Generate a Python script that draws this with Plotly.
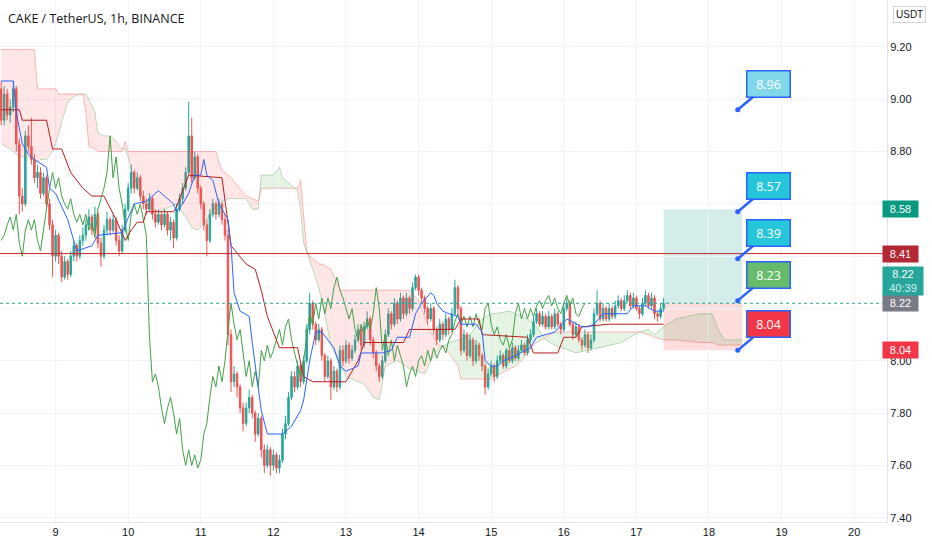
import plotly.graph_objects as go

# CAKE / USDT hourly candles, index 0 = day 8, 06:00
start_day = 8
start_hour = 6

closes = [
    8.92, 9.02, 8.94, 8.97, 9.04, 8.83, 8.63, 8.60, 8.86, 8.82,
    8.77, 8.70, 8.72, 8.64, 8.70, 8.60, 8.52, 8.40, 8.48, 8.40,
    8.32, 8.38, 8.33, 8.40, 8.44, 8.40, 8.46, 8.48, 8.52, 8.55,
    8.50, 8.56, 8.45, 8.40, 8.50, 8.54, 8.50, 8.54, 8.46, 8.42,
    8.50, 8.58, 8.66, 8.72, 8.66, 8.70, 8.63, 8.60, 8.58, 8.62,
    8.56, 8.53, 8.56, 8.52, 8.56, 8.50, 8.53, 8.47, 8.58, 8.62,
    8.66, 8.72, 8.86, 8.70, 8.78, 8.66, 8.60, 8.52, 8.46, 8.56,
    8.60, 8.56, 8.60, 8.54, 8.48, 8.10, 7.92, 7.95, 7.90, 7.82,
    7.76, 7.82, 7.86, 7.80, 7.72, 7.78, 7.66, 7.60, 7.66, 7.60,
    7.64, 7.59, 7.62, 7.72, 7.76, 7.86, 7.94, 7.90, 7.98, 7.92,
    8.00, 8.12, 8.22, 8.14, 8.08, 8.12, 8.02, 7.94, 8.00, 7.90,
    7.96, 7.90, 8.04, 8.00, 8.06, 8.01, 8.04, 8.08, 8.12, 8.06,
    8.13, 8.16, 8.08, 8.03, 7.98, 7.94, 8.00, 8.10, 8.18, 8.14,
    8.22, 8.16, 8.24, 8.18, 8.24, 8.20, 8.28, 8.32, 8.27, 8.24,
    8.20, 8.16, 8.20, 8.12, 8.08, 8.14, 8.10, 8.16, 8.12, 8.18,
    8.28, 8.20, 8.04, 8.10, 8.02, 8.08, 8.00, 8.06, 8.02, 7.98,
    7.90, 7.95, 7.98, 7.94, 8.00, 8.02, 7.98, 8.04, 8.00, 8.05,
    8.01, 8.04, 8.06, 8.03, 8.08, 8.10, 8.15, 8.18, 8.14, 8.17,
    8.13, 8.17, 8.13, 8.18, 8.14, 8.12, 8.20, 8.22, 8.14, 8.10,
    8.13, 8.08, 8.06, 8.10, 8.05, 8.08, 8.18, 8.22, 8.16, 8.20,
    8.16, 8.20, 8.17, 8.21, 8.23, 8.20, 8.23, 8.25, 8.21, 8.24,
    8.20, 8.18, 8.22, 8.25, 8.21, 8.24, 8.18, 8.17, 8.20, 8.22,
]
first_open = 9.04

highs = [
    9.07, 9.05, 9.04, 9.00, 9.07, 9.05, 8.85, 8.66, 8.88, 8.90,
    8.93, 8.79, 8.75, 8.74, 8.72, 8.71, 8.62, 8.54, 8.50, 8.49,
    8.42, 8.40, 8.39, 8.42, 8.46, 8.45, 8.48, 8.51, 8.54, 8.58,
    8.56, 8.59, 8.57, 8.47, 8.52, 8.57, 8.55, 8.56, 8.55, 8.48,
    8.52, 8.60, 8.68, 8.75, 8.73, 8.72, 8.71, 8.65, 8.62, 8.64,
    8.63, 8.58, 8.58, 8.57, 8.58, 8.57, 8.55, 8.54, 8.60, 8.64,
    8.68, 8.74, 8.99, 8.93, 8.80, 8.79, 8.67, 8.61, 8.54, 8.58,
    8.62, 8.61, 8.62, 8.61, 8.56, 8.50, 8.12, 7.98, 7.96, 7.91,
    7.84, 7.84, 7.89, 7.87, 7.81, 7.80, 7.79, 7.68, 7.68, 7.67,
    7.66, 7.65, 7.64, 7.74, 7.79, 7.88, 7.96, 7.96, 8.00, 7.99,
    8.02, 8.14, 8.26, 8.23, 8.15, 8.14, 8.13, 8.03, 8.02, 8.01,
    7.98, 7.97, 8.06, 8.06, 8.08, 8.07, 8.06, 8.10, 8.14, 8.13,
    8.15, 8.19, 8.17, 8.09, 8.04, 7.99, 8.02, 8.12, 8.20, 8.19,
    8.24, 8.23, 8.26, 8.25, 8.26, 8.25, 8.30, 8.33, 8.33, 8.28,
    8.25, 8.21, 8.22, 8.21, 8.13, 8.16, 8.15, 8.18, 8.17, 8.20,
    8.31, 8.29, 8.21, 8.12, 8.11, 8.10, 8.09, 8.08, 8.07, 8.03,
    7.99, 7.97, 8.00, 7.99, 8.02, 8.04, 8.03, 8.05, 8.05, 8.07,
    8.06, 8.06, 8.08, 8.07, 8.10, 8.12, 8.17, 8.20, 8.19, 8.19,
    8.18, 8.19, 8.18, 8.20, 8.19, 8.15, 8.22, 8.24, 8.23, 8.15,
    8.15, 8.14, 8.09, 8.12, 8.11, 8.10, 8.20, 8.27, 8.23, 8.22,
    8.21, 8.22, 8.21, 8.23, 8.25, 8.24, 8.25, 8.27, 8.26, 8.26,
    8.25, 8.21, 8.24, 8.27, 8.26, 8.26, 8.25, 8.19, 8.22, 8.24,
]

lows = [
    8.90, 8.90, 8.92, 8.91, 8.95, 8.80, 8.56, 8.57, 8.59, 8.80,
    8.75, 8.68, 8.66, 8.62, 8.63, 8.58, 8.50, 8.32, 8.38, 8.37,
    8.30, 8.31, 8.31, 8.32, 8.38, 8.38, 8.39, 8.44, 8.46, 8.50,
    8.48, 8.49, 8.43, 8.36, 8.39, 8.48, 8.48, 8.49, 8.44, 8.40,
    8.41, 8.49, 8.57, 8.64, 8.64, 8.65, 8.61, 8.58, 8.56, 8.57,
    8.54, 8.51, 8.52, 8.50, 8.51, 8.48, 8.46, 8.43, 8.46, 8.57,
    8.60, 8.65, 8.71, 8.68, 8.69, 8.64, 8.58, 8.50, 8.40, 8.45,
    8.55, 8.54, 8.55, 8.52, 8.46, 8.06, 7.88, 7.90, 7.86, 7.80,
    7.73, 7.75, 7.80, 7.78, 7.69, 7.71, 7.63, 7.57, 7.59, 7.56,
    7.58, 7.57, 7.57, 7.61, 7.70, 7.75, 7.85, 7.88, 7.89, 7.90,
    7.91, 7.99, 8.10, 8.12, 8.06, 8.07, 8.00, 7.92, 7.93, 7.85,
    7.89, 7.88, 7.89, 7.98, 7.99, 7.99, 8.00, 8.03, 8.07, 8.04,
    8.05, 8.12, 8.06, 8.01, 7.96, 7.92, 7.93, 7.99, 8.09, 8.12,
    8.13, 8.14, 8.15, 8.16, 8.17, 8.18, 8.19, 8.27, 8.25, 8.22,
    8.18, 8.14, 8.15, 8.10, 8.06, 8.07, 8.08, 8.09, 8.10, 8.11,
    8.17, 8.18, 8.02, 8.03, 8.00, 8.01, 7.98, 7.99, 8.00, 7.96,
    7.87, 7.89, 7.94, 7.92, 7.93, 7.99, 7.97, 7.97, 7.99, 7.99,
    8.00, 8.00, 8.03, 8.02, 8.02, 8.07, 8.09, 8.14, 8.13, 8.13,
    8.12, 8.12, 8.12, 8.12, 8.13, 8.10, 8.11, 8.19, 8.13, 8.08,
    8.09, 8.07, 8.04, 8.05, 8.03, 8.04, 8.07, 8.17, 8.15, 8.15,
    8.15, 8.15, 8.16, 8.16, 8.20, 8.19, 8.19, 8.22, 8.20, 8.20,
    8.19, 8.16, 8.17, 8.21, 8.20, 8.20, 8.16, 8.15, 8.16, 8.19,
]

# Ichimoku lines: (hour index, price)
conv_idx = [0, 4, 5, 7, 9, 11, 15, 16, 18, 20, 22, 24, 25, 30, 32, 40, 41, 44, 48, 52,
            54, 57, 58, 60, 62, 64, 66, 67, 68, 70, 72, 75, 76, 77, 79, 82, 83, 86, 88, 93,
            96, 99, 100, 102, 104, 106, 110, 112, 114, 118, 119, 126, 129, 131, 135, 137, 139, 142, 143, 144,
            146, 148, 151, 152, 157, 159, 160, 162, 164, 166, 170, 175, 177, 183, 187, 192, 194, 196, 199, 203,
            207, 209, 213, 216, 219]
conv_val = [9.07, 9.07, 8.95, 8.83, 8.79, 8.77, 8.74, 8.66, 8.64, 8.59, 8.54, 8.46, 8.42, 8.44, 8.48, 8.49, 8.52, 8.60, 8.61, 8.65,
            8.63, 8.60, 8.57, 8.60, 8.64, 8.71, 8.71, 8.77, 8.71, 8.69, 8.60, 8.54, 8.44, 8.26, 8.19, 8.17, 8.07, 7.81, 7.72, 7.72,
            7.75, 7.81, 7.85, 8.00, 8.11, 8.11, 8.05, 7.98, 7.96, 7.98, 8.03, 8.03, 8.04, 8.09, 8.09, 8.18, 8.22, 8.26, 8.25, 8.22,
            8.19, 8.18, 8.17, 8.14, 8.14, 8.11, 8.00, 7.98, 7.98, 8.00, 8.02, 8.05, 8.09, 8.11, 8.16, 8.13, 8.13, 8.14, 8.18, 8.18,
            8.18, 8.21, 8.21, 8.19, 8.19]

base_idx = [0, 6, 7, 15, 17, 20, 23, 27, 30, 34, 38, 41, 43, 45, 47, 48, 57, 58, 62, 73,
            76, 81, 84, 86, 88, 92, 98, 100, 103, 114, 118, 120, 133, 135, 150, 152, 158, 159, 174, 176,
            184, 186, 190, 192, 201, 219]
base_val = [8.96, 8.96, 8.92, 8.92, 8.81, 8.81, 8.72, 8.66, 8.63, 8.63, 8.54, 8.46, 8.50, 8.53, 8.53, 8.57, 8.57, 8.59, 8.71, 8.70,
            8.44, 8.37, 8.35, 8.27, 8.17, 8.05, 8.05, 7.94, 7.92, 7.92, 8.00, 8.07, 8.07, 8.12, 8.12, 8.16, 8.16, 8.10, 8.09, 8.03,
            8.03, 8.09, 8.09, 8.13, 8.14, 8.14]

lag_shift = 26

cloud_idx = [0, 3, 6, 10, 11, 12, 13, 15, 17, 18, 19, 20, 21, 22, 24, 26, 27, 28, 29, 31,
             32, 34, 36, 38, 39, 40, 41, 42, 43, 45, 47, 49, 52, 54, 56, 58, 61, 63, 65, 68,
             71, 72, 73, 75, 76, 81, 83, 85, 86, 87, 90, 92, 93, 96, 98, 99, 100, 101, 102, 103,
             105, 106, 109, 112, 114, 120, 123, 125, 127, 131, 135, 138, 140, 142, 144, 145, 147, 148, 151, 152,
             155, 159, 162, 163, 168, 170, 172, 174, 176, 177, 180, 183, 190, 198, 205, 211, 214, 216, 219, 223,
             231, 235, 237, 239, 245]
span_a = [8.83, 8.81, 8.78, 8.78, 8.76, 8.76, 8.77, 8.77, 8.80, 8.83, 8.87, 8.91, 8.96, 8.99, 9.01, 9.02, 9.02, 9.02, 9.00, 8.95,
          8.87, 8.86, 8.86, 8.84, 8.82, 8.81, 8.81, 8.78, 8.73, 8.67, 8.62, 8.58, 8.57, 8.58, 8.59, 8.60, 8.55, 8.51, 8.50, 8.54,
          8.59, 8.60, 8.61, 8.62, 8.62, 8.62, 8.58, 8.58, 8.71, 8.71, 8.71, 8.74, 8.70, 8.67, 8.65, 8.58, 8.45, 8.42, 8.38, 8.35,
          8.28, 8.23, 8.06, 7.99, 7.94, 7.91, 7.86, 7.85, 7.98, 8.00, 7.97, 7.96, 7.95, 8.00, 8.04, 8.05, 8.06, 8.07, 8.08, 8.08,
          8.10, 8.16, 8.18, 8.18, 8.19, 8.18, 8.17, 8.16, 8.14, 8.13, 8.08, 8.06, 8.03, 8.05, 8.07, 8.11, 8.12, 8.10, 8.13, 8.16,
          8.18, 8.18, 8.12, 8.08, 8.08]
span_b = [9.19, 9.19, 9.19, 9.19, 9.19, 9.04, 9.04, 9.04, 9.04, 9.04, 9.02, 9.02, 9.02, 9.02, 9.02, 9.02, 9.02, 8.95, 8.82, 8.81,
          8.80, 8.80, 8.80, 8.80, 8.80, 8.80, 8.84, 8.80, 8.80, 8.80, 8.80, 8.80, 8.80, 8.80, 8.80, 8.80, 8.80, 8.80, 8.80, 8.80,
          8.80, 8.76, 8.73, 8.71, 8.70, 8.63, 8.62, 8.61, 8.66, 8.66, 8.66, 8.66, 8.66, 8.66, 8.66, 8.69, 8.55, 8.42, 8.40, 8.39,
          8.37, 8.37, 8.35, 8.27, 8.27, 8.27, 8.27, 8.27, 8.27, 8.27, 8.27, 8.23, 8.17, 8.11, 8.07, 8.06, 8.05, 8.03, 7.98, 7.93,
          7.93, 7.93, 7.93, 7.94, 7.97, 7.98, 8.00, 8.03, 8.06, 8.07, 8.09, 8.11, 8.11, 8.11, 8.11, 8.11, 8.10, 8.09, 8.08, 8.08,
          8.07, 8.07, 8.06, 8.06, 8.06]

# long position tool
entry_idx = 219
exit_idx = 245
entry_price = 8.22
target_price = 8.58
stop_price = 8.04
resistance = 8.41

# callout notes: price, box colour
note_idx = 243.5
notes = [(8.96, "#80d8ea"), (8.57, "#26c6da"), (8.39, "#26c6da"), (8.23, "#66bb6a"), (8.04, "#f23645")]

day_labels = list(range(9, 21))
price_ticks = [7.4, 7.6, 7.8, 8.0, 8.2, 8.4, 8.6, 8.8, 9.0, 9.2]
hidden_ticks = [8.2, 8.4, 8.6]   # covered by the price tags

# ------------------------------------------------------------------
n = len(closes)
idx = list(range(n))
opens = [first_open] + closes[:-1]
day_idx = [(d - start_day) * 24 - start_hour for d in day_labels]

fig = go.Figure()

# cloud fill, coloured by which span is on top
def cloud_runs(xs, a, b):
    runs = []
    cur = {"x": [xs[0]], "a": [a[0]], "b": [b[0]]}
    for k in range(len(xs) - 1):
        d0 = a[k] - b[k]
        d1 = a[k + 1] - b[k + 1]
        if d0 * d1 < 0:
            t = d0 / (d0 - d1)
            xc = xs[k] + t * (xs[k + 1] - xs[k])
            yc = a[k] + t * (a[k + 1] - a[k])
            cur["x"].append(xc); cur["a"].append(yc); cur["b"].append(yc)
            runs.append(cur)
            cur = {"x": [xc], "a": [yc], "b": [yc]}
        cur["x"].append(xs[k + 1]); cur["a"].append(a[k + 1]); cur["b"].append(b[k + 1])
    runs.append(cur)
    return runs

for run in cloud_runs(cloud_idx, span_a, span_b):
    diff = sum(p - q for p, q in zip(run["a"], run["b"]))
    col = "rgba(76,175,80,0.14)" if diff > 0 else "rgba(255,82,82,0.14)"
    fig.add_trace(go.Scatter(
        x=run["x"] + run["x"][::-1], y=run["a"] + run["b"][::-1],
        fill="toself", fillcolor=col, line=dict(width=0), mode="lines",
        hoverinfo="skip", showlegend=False))

fig.add_trace(go.Scatter(x=cloud_idx, y=span_a, mode="lines",
                         line=dict(color="rgba(67,160,71,0.35)", width=1), showlegend=False))
fig.add_trace(go.Scatter(x=cloud_idx, y=span_b, mode="lines",
                         line=dict(color="rgba(244,67,54,0.35)", width=1), showlegend=False))

# lagging span
fig.add_trace(go.Scatter(x=[i - lag_shift for i in idx[lag_shift:]], y=closes[lag_shift:], mode="lines",
                         line=dict(color="#43a047", width=1), showlegend=False))
# base line
fig.add_trace(go.Scatter(x=base_idx, y=base_val, mode="lines",
                         line=dict(color="#b71c1c", width=1), showlegend=False))
# conversion line
fig.add_trace(go.Scatter(x=conv_idx, y=conv_val, mode="lines",
                         line=dict(color="#2962ff", width=1), showlegend=False))

fig.add_trace(go.Candlestick(
    x=idx, open=opens, high=highs, low=lows, close=closes,
    increasing=dict(line=dict(color="#26a69a", width=1), fillcolor="#26a69a"),
    decreasing=dict(line=dict(color="#ef5350", width=1), fillcolor="#ef5350"),
    whiskerwidth=0, showlegend=False, hoverinfo="skip"))

# position boxes
fig.add_shape(type="rect", x0=entry_idx, x1=exit_idx, y0=entry_price, y1=target_price,
              fillcolor="rgba(38,166,154,0.2)", line=dict(width=0), layer="below")
fig.add_shape(type="rect", x0=entry_idx, x1=exit_idx, y0=stop_price, y1=entry_price,
              fillcolor="rgba(239,83,80,0.2)", line=dict(width=0), layer="below")

# horizontal lines
fig.add_shape(type="line", xref="paper", x0=0, x1=1, y0=resistance, y1=resistance,
              line=dict(color="#c62828", width=1))
fig.add_shape(type="line", xref="paper", x0=0, x1=1, y0=closes[-1], y1=closes[-1],
              line=dict(color="#26a69a", width=1, dash="dot"))

# callouts
fig.add_trace(go.Scatter(x=[note_idx] * len(notes), y=[p for p, _ in notes], mode="markers",
                         marker=dict(color="#2962ff", size=5), showlegend=False, hoverinfo="skip"))
for price, col in notes:
    fig.add_annotation(x=note_idx, y=price, ax=31, ay=-26, text=f"{price:.2f}",
                       showarrow=True, arrowhead=0, arrowwidth=2.5, arrowcolor="#2962ff",
                       bgcolor=col, bordercolor="#2962ff", borderwidth=1.5, borderpad=4,
                       width=34, font=dict(color="white", size=12.5, family="Open Sans"))

# price tags on the axis
tags = [(target_price, "8.58", "#089981"), (resistance, "8.41", "#b22833"),
        (entry_price, "8.22", "#787b86"), (stop_price, "8.04", "#f23645")]
for price, txt, col in tags:
    fig.add_annotation(xref="paper", x=1, xanchor="left", xshift=-5, y=price, yanchor="middle",
                       text=txt, showarrow=False, bgcolor=col, borderpad=1, width=33, height=14,
                       font=dict(color="white", size=11, family="Liberation Sans"))
fig.add_annotation(xref="paper", x=1, xanchor="left", xshift=-5, y=closes[-1], yanchor="bottom", yshift=7,
                   text="8.22<br><span style='color:#d8f1ee'>40:39</span>", showarrow=False,
                   bgcolor="#26a69a", borderpad=1, width=38,
                   font=dict(color="white", size=11, family="Liberation Sans"))

fig.add_annotation(xref="paper", yref="paper", x=1, y=1, xanchor="left", yanchor="top", xshift=6, yshift=-6,
                   text="USDT", showarrow=False, bgcolor="white", bordercolor="#d1d4dc", borderwidth=1,
                   borderpad=2, font=dict(color="#131722", size=10, family="Liberation Sans"))

fig.add_annotation(xref="paper", yref="paper", x=0, y=1, xanchor="left", yanchor="top", xshift=6, yshift=-8,
                   text="CAKE / TetherUS, 1h, BINANCE", showarrow=False,
                   font=dict(color="#131722", size=12.5, family="Open Sans"))

fig.update_layout(
    width=932, height=550,
    margin=dict(l=0, r=45, t=0, b=28),
    paper_bgcolor="white", plot_bgcolor="white",
    showlegend=False,
    xaxis=dict(range=[-0.38, 292.85], tickvals=day_idx, ticktext=[str(d) for d in day_labels],
               showgrid=True, gridcolor="#f0f3fa", zeroline=False, rangeslider=dict(visible=False),
               showline=True, linecolor="#e0e3eb", ticks="",
               tickfont=dict(color="#131722", size=11, family="Liberation Sans")),
    yaxis=dict(side="right", range=[7.3836, 9.3797], tickvals=price_ticks,
               ticktext=["" if t in hidden_ticks else f"{t:.2f}" for t in price_ticks],
               showgrid=True, gridcolor="#f0f3fa", zeroline=False,
               showline=True, linecolor="#e0e3eb", ticks="",
               tickfont=dict(color="#131722", size=11, family="Liberation Sans")),
)

fig.write_html("out.html", config={"displayModeBar": False},
               post_script="document.body.style.margin='0px';")
